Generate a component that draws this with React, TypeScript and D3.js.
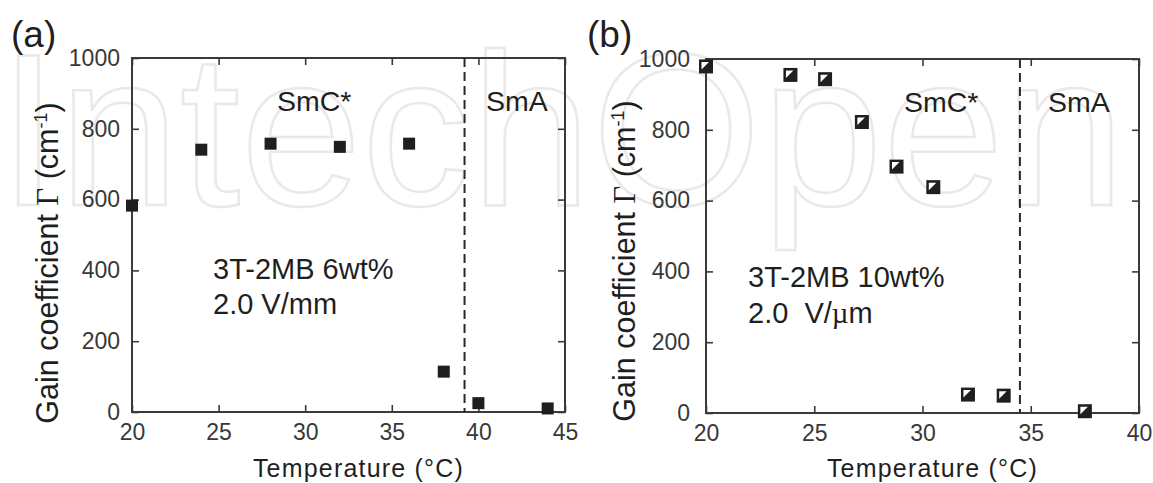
import React, { useEffect, useRef } from 'react';
import * as d3 from 'd3';

// panel (a): 3T-2MB 6wt%
const tempA = [20, 24, 28, 32, 36, 38, 40, 44];
const gainA = [583, 741, 758, 749, 758, 114, 25, 10];
// panel (b): 3T-2MB 10wt%
const tempB = [20.0, 23.9, 25.5, 27.2, 28.8, 30.5, 32.1, 33.75, 37.5];
const gainB = [979, 955, 943, 822, 696, 638, 52, 49, 5];

const yTicks = [0, 200, 400, 600, 800, 1000];
const xTicksA = [20, 25, 30, 35, 40, 45];
const xTicksB = [20, 25, 30, 35, 40];
const transitionA = 39.2; // SmC* -> SmA
const transitionB = 34.5;

const W = 1153;
const H = 483;
const SANS = '"Liberation Sans", Arial, Helvetica, sans-serif';
const SERIF = '"Liberation Serif", "Times New Roman", serif';
const AXIS = '#3a3a3a';
const INK = '#1f1f1f';

const drawPanel = (svg, o) => {
  const x = d3.scaleLinear().domain(o.xDomain).range([o.left, o.right]);
  const y = d3.scaleLinear().domain([0, 1000]).range([o.bottom, o.top]);
  const g = svg.append('g');

  const styleAxis = (sel) => {
    sel.select('.domain').remove();
    sel.selectAll('.tick line').attr('stroke', AXIS).attr('stroke-width', 1.6);
    sel
      .selectAll('.tick text')
      .attr('fill', '#383838')
      .attr('font-family', SANS)
      .attr('font-size', 23);
  };

  g.append('g')
    .attr('transform', `translate(0,${o.bottom})`)
    .call(d3.axisBottom(x).tickValues(o.xTicks).tickSize(-7).tickSizeOuter(0).tickPadding(12).tickFormat(d3.format('d')))
    .call(styleAxis);
  g.append('g')
    .attr('transform', `translate(0,${o.top})`)
    .call(d3.axisTop(x).tickValues(o.xTicks).tickSize(-7).tickSizeOuter(0).tickFormat(() => ''))
    .call(styleAxis);
  g.append('g')
    .attr('transform', `translate(${o.left},0)`)
    .call(d3.axisLeft(y).tickValues(yTicks).tickSize(-7).tickSizeOuter(0).tickPadding(o.yPad).tickFormat(d3.format('d')))
    .call(styleAxis);
  g.append('g')
    .attr('transform', `translate(${o.right},0)`)
    .call(d3.axisRight(y).tickValues(yTicks).tickSize(-7).tickSizeOuter(0).tickFormat(() => ''))
    .call(styleAxis);

  g.append('rect')
    .attr('x', o.left)
    .attr('y', o.top)
    .attr('width', o.right - o.left)
    .attr('height', o.bottom - o.top)
    .attr('fill', 'none')
    .attr('stroke', AXIS)
    .attr('stroke-width', 2);

  // phase boundary
  g.append('line')
    .attr('x1', x(o.transition))
    .attr('x2', x(o.transition))
    .attr('y1', o.top)
    .attr('y2', o.bottom)
    .attr('stroke', '#2a2a2a')
    .attr('stroke-width', 2)
    .attr('stroke-dasharray', '9,5');

  const txt = (tx, ty, s, size = 28.5) =>
    g.append('text')
      .attr('x', tx)
      .attr('y', ty)
      .attr('font-family', SANS)
      .attr('font-size', size)
      .attr('fill', INK)
      .text(s);

  txt(o.smcX, o.phaseY, 'SmC*');
  txt(o.smaX, o.phaseY, 'SmA');
  txt(o.noteX, o.noteY, o.sample, 29);
  const l2 = txt(o.noteX, o.noteY + o.noteDy, '', 29).attr('xml:space', 'preserve');
  l2.append('tspan').text(o.field[0]);
  if (o.field.length > 1) {
    l2.append('tspan').attr('font-family', SERIF).text(o.field[1]);
    l2.append('tspan').text(o.field[2]);
  }

  // panel tag
  g.append('text')
    .attr('x', o.tagX)
    .attr('y', 47)
    .attr('font-family', SANS)
    .attr('font-size', 37)
    .attr('fill', INK)
    .text(o.tag);

  // axis titles
  g.append('text')
    .attr('x', (o.left + o.right) / 2 + 10)
    .attr('y', 477)
    .attr('text-anchor', 'middle')
    .attr('font-family', SANS)
    .attr('font-size', 25)
    .attr('letter-spacing', 1.2)
    .attr('fill', INK)
    .text('Temperature (°C)');

  const yt = g.append('text')
    .attr('transform', `translate(${o.yTitleX},${o.yTitleY}) rotate(-90)`)
    .attr('text-anchor', 'middle')
    .attr('font-family', SANS)
    .attr('font-size', 30.5)
    .attr('fill', INK);
  yt.append('tspan').text('Gain coefficient ');
  yt.append('tspan').attr('font-family', SERIF).text('Γ');
  yt.append('tspan').text(' (cm');
  yt.append('tspan').attr('font-size', 18).attr('dy', -11).text('-1');
  yt.append('tspan').attr('dy', 11).text(')');

  // markers
  const pts = g.selectAll('g.pt')
    .data(d3.zip(o.temps, o.gains))
    .join('g')
    .attr('class', 'pt')
    .attr('transform', ([t, v]) => `translate(${x(t)},${y(v)})`);
  if (o.half) {
    pts.append('rect').attr('x', -7).attr('y', -7).attr('width', 14).attr('height', 14).attr('fill', INK);
    pts.append('path').attr('d', 'M-4.5,-4.5L3,-4.5L-4.5,3Z').attr('fill', '#fff');
  } else {
    pts.append('rect').attr('x', -6).attr('y', -6).attr('width', 12).attr('height', 12).attr('fill', INK);
  }
};

const App = () => {
  const ref = useRef(null);

  useEffect(() => {
    const svg = d3.select(ref.current);
    svg.selectAll('*').remove();

    svg.append('rect').attr('width', W).attr('height', H).attr('fill', '#fff');
    // faint publisher watermark
    svg.append('text')
      .attr('x', -2)
      .attr('y', 205)
      .attr('font-family', SANS)
      .attr('font-size', 218)
      .attr('fill', 'none')
      .attr('stroke', '#e9e9e9')
      .attr('stroke-width', 2.5)
      .text('IntechOpen');

    drawPanel(svg, {
      left: 132, right: 565, top: 58, bottom: 412,
      xDomain: [20, 45], xTicks: xTicksA,
      temps: tempA, gains: gainA, transition: transitionA,
      yPad: 12, tag: '(a)', tagX: 11,
      smcX: 277, smaX: 486, phaseY: 111,
      sample: '3T-2MB 6wt%', field: ['2.0 V/mm'],
      noteX: 213, noteY: 279, noteDy: 35,
      yTitleX: 58, yTitleY: 263, half: false,
    });
    drawPanel(svg, {
      left: 706, right: 1139, top: 59, bottom: 413,
      xDomain: [20, 40], xTicks: xTicksB,
      temps: tempB, gains: gainB, transition: transitionB,
      yPad: 16, tag: '(b)', tagX: 587,
      smcX: 904, smaX: 1048, phaseY: 112,
      sample: '3T-2MB 10wt%', field: ['2.0\u00a0 V/', 'µ', 'm'],
      noteX: 748, noteY: 287, noteDy: 36,
      yTitleX: 635, yTitleY: 261, half: true,
    });
  }, []);

  return (
    <svg
      ref={ref}
      width={W}
      height={H}
      style={{ position: 'absolute', left: 0, top: 0, display: 'block' }}
    />
  );
};

export default App;
